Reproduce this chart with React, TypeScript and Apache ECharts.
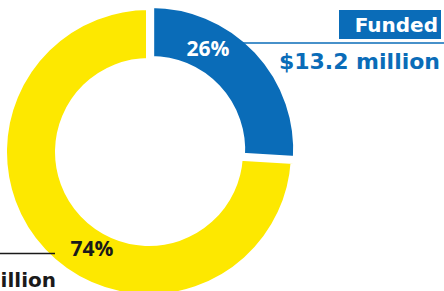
import React, { useEffect, useRef } from "react";
import * as echarts from "echarts";

const categories = ["Funded", "Unfunded"];
const amounts = [13.2, 37.6];
const percents = [26, 74];
const colors = ["#0a6cb8", "#fde800"];

export default function App() {
  const ref = useRef<HTMLDivElement>(null);
  useEffect(() => {
    document.body.style.margin = "0";
    const chart = echarts.init(ref.current!, null, { renderer: "svg" });
    const font = "'Open Sans', Lato, sans-serif";
    const wide = "'DejaVu Sans', 'Open Sans', sans-serif";
    chart.setOption({
      animation: false,
      backgroundColor: "#ffffff",
      series: [
        {
          type: "pie",
          center: [149, 152],
          radius: [91, 145],
          startAngle: 90,
          clockwise: true,
          silent: true,
          selectedMode: "multiple",
          selectedOffset: 3,
          label: { show: false },
          labelLine: { show: false },
          itemStyle: { borderColor: "#ffffff", borderWidth: 6 },
          data: categories.map((c, i) => ({
            name: c,
            value: percents[i],
            selected: i === 0,
            itemStyle: { color: colors[i] },
          })),
        },
      ],
      graphic: [
        { type: "line", z: 100, shape: { x1: 240, y1: 43, x2: 444, y2: 43 }, style: { stroke: colors[0], lineWidth: 1.5 } },
        { type: "rect", z: 100, shape: { x: 339, y: 10, width: 102, height: 29 }, style: { fill: colors[0] } },
        {
          type: "text", z: 101, x: 438, y: 25,
          style: { text: categories[0], fill: "#ffffff", font: `bold 20px ${wide}`, align: "right", verticalAlign: "middle" },
        },
        {
          type: "text", z: 101, x: 440, y: 61,
          style: { text: `$${amounts[0].toFixed(1)} million`, fill: colors[0], font: `bold 22px ${wide}`, align: "right", verticalAlign: "middle" },
        },
        {
          type: "text", z: 101, x: 208, y: 48,
          style: { text: `${percents[0]}%`, fill: "#ffffff", font: `bold 21px ${font}`, align: "center", verticalAlign: "middle" },
        },
        {
          type: "text", z: 101, x: 92, y: 248,
          style: { text: `${percents[1]}%`, fill: "#1a1a1a", font: `bold 21px ${font}`, align: "center", verticalAlign: "middle" },
        },
        { type: "line", z: 100, shape: { x1: 0, y1: 253.5, x2: 55, y2: 253.5 }, style: { stroke: "#1a1a1a", lineWidth: 1.5 } },
        {
          type: "text", z: 101, x: 56, y: 280,
          style: { text: `$${amounts[1].toFixed(1)} million`, fill: "#1a1a1a", font: `bold 20px ${wide}`, align: "right", verticalAlign: "middle" },
        },
      ],
    });
    return () => chart.dispose();
  }, []);
  return <div ref={ref} style={{ width: 444, height: 291 }} />;
}
